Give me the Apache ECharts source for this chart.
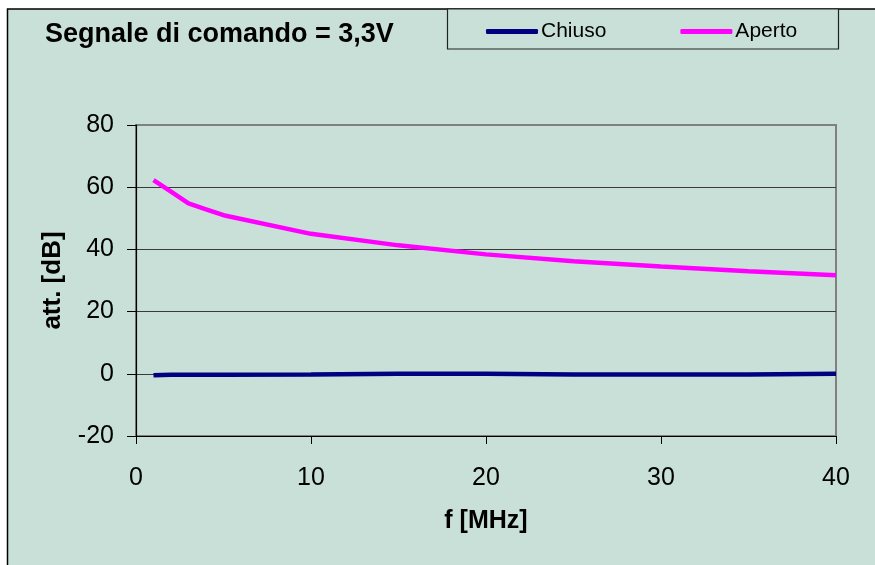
<!DOCTYPE html>
<html><head><meta charset="utf-8">
<script src="https://cdn.jsdelivr.net/npm/echarts@6/dist/echarts.min.js"></script>
<style>html,body{margin:0;padding:0;background:#fff;}#c{width:875px;height:565px;}</style>
</head><body><div id="c"></div>
<script>
const freqs = [1, 2, 3, 4, 5, 10, 15, 20, 25, 30, 35, 40];
const chiuso = [-0.5, -0.3, -0.3, -0.3, -0.3, -0.2, 0, 0, -0.2, -0.2, -0.2, 0];
const aperto = [62.3, 58.6, 54.8, 52.9, 51.0, 45.0, 41.3, 38.4, 36.2, 34.5, 33.0, 31.7];
const titleText = 'Segnale di comando = 3,3V';
const seriesNames = ['Chiuso', 'Aperto'];
const xName = 'f [MHz]';
const yName = 'att. [dB]';

const font = '"Liberation Sans", Arial, sans-serif';
const bg = '#C9E0D8';
const chart = echarts.init(document.getElementById('c'));
chart.setOption({
  backgroundColor: '#ffffff',
  animation: false,
  textStyle: { fontFamily: font },
  graphic: [
    { type: 'rect', z: -10, shape: { x: 7.5, y: 9, width: 900, height: 600 },
      style: { fill: bg, stroke: '#000', lineWidth: 1.5 } },
    { type: 'rect', z: -5, shape: { x: 447.5, y: 9, width: 391, height: 40 },
      style: { fill: bg, stroke: '#222', lineWidth: 1.2 } },
    { type: 'text', left: 45, top: 21,
      style: { text: titleText, fontFamily: font, fontSize: 27, fontWeight: 'bold', fill: '#000' } }
  ],
  legend: {
    left: 486, top: 21, padding: 0, itemWidth: 52, itemHeight: 5, itemGap: 74, icon: 'roundRect',
    textStyle: { fontFamily: font, fontSize: 21, color: '#000', padding: [0, 0, 0, -2] },
    data: seriesNames
  },
  grid: { left: 136, right: 39, top: 125, bottom: 129, show: true,
    backgroundColor: 'transparent', borderColor: '#808080', borderWidth: 2 },
  xAxis: {
    type: 'value', min: 0, max: 40, interval: 10,
    name: xName, nameLocation: 'middle', nameGap: 73,
    nameTextStyle: { fontFamily: font, fontSize: 25, fontWeight: 'bold', color: '#000' },
    axisLine: { show: true, onZero: false, lineStyle: { color: '#000', width: 1.2 } },
    axisTick: { show: true, inside: false, length: 8, lineStyle: { color: '#000' } },
    axisLabel: { fontFamily: font, fontSize: 25, color: '#000', margin: 30 },
    splitLine: { show: false }
  },
  yAxis: {
    type: 'value', min: -20, max: 80, interval: 20,
    name: yName, nameLocation: 'middle', nameGap: 70, nameRotate: 90,
    nameTextStyle: { fontFamily: font, fontSize: 26, fontWeight: 'bold', color: '#000' },
    axisLine: { show: true, onZero: false, lineStyle: { color: '#000', width: 1.2 } },
    axisTick: { show: true, inside: false, length: 9, lineStyle: { color: '#000' } },
    axisLabel: { fontFamily: font, fontSize: 25, color: '#000', margin: 22 },
    splitLine: { show: true, showMinLine: false, showMaxLine: false, lineStyle: { color: '#3a3a3a', width: 1.2 } }
  },
  series: [
    { name: seriesNames[0], type: 'line', data: freqs.map((f, i) => [f, chiuso[i]]),
      showSymbol: false, symbol: 'none', lineStyle: { color: '#000080', width: 4.5 }, itemStyle: { color: '#000080' } },
    { name: seriesNames[1], type: 'line', data: freqs.map((f, i) => [f, aperto[i]]),
      showSymbol: false, symbol: 'none', lineStyle: { color: '#FF00FF', width: 4.5 }, itemStyle: { color: '#FF00FF' } }
  ]
});
</script></body></html>
